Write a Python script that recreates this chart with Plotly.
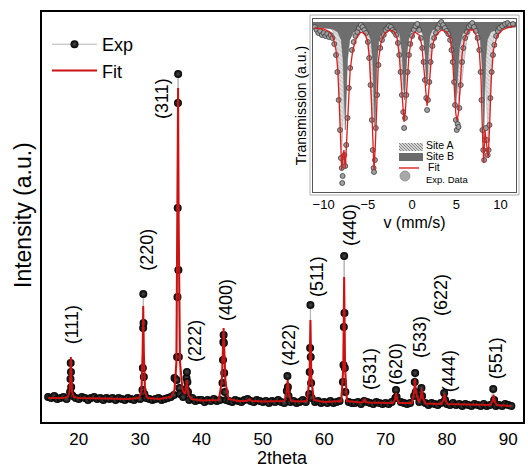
import numpy as np
import plotly.graph_objects as go

# ---------------- main XRD pattern ----------------
# baseline scan (2theta grid, step 0.5 deg) and intensities
base_start, base_step = 15.0, 0.5
base_I = [25, 24, 26, 23, 24, 25, 23, 24, 26, 24,
          23, 25, 24, 22, 24, 25, 23, 24, 22, 24,
          23, 24, 22, 24, 23, 22, 24, 23, 22, 24,
          23, 22, 24, 23, 22, 23, 24, 22, 23, 24,
          25, 27, 30, 28, 25, 23, 22, 24, 21, 22,
          22, 20, 22, 21, 23, 21, 22, 20, 22, 21,
          20, 22, 21, 20, 22, 23, 21, 20, 22, 21,
          20, 21, 19, 21, 20, 22, 20, 19, 21, 20,
          21, 19, 20, 22, 20, 21, 19, 20, 21, 19,
          20, 19, 21, 19, 20, 21, 20, 19, 20, 19,
          19, 20, 18, 21, 20, 19, 18, 20, 19, 18,
          19, 18, 20, 19, 18, 20, 19, 18, 19, 20,
          19, 20, 18, 19, 17, 19, 18, 17, 19, 18,
          18, 17, 19, 17, 18, 16, 18, 17, 16, 18,
          17, 16, 18, 16, 17, 18, 16, 17, 16, 18,
          17, 16]
base_2theta = base_start + base_step * np.arange(len(base_I))

# points on the diffraction peaks
peak_centers = [18.7, 30.5, 36.18, 37.6, 43.6, 54.05, 57.75, 63.25, 71.7, 74.8, 75.9, 79.6, 87.6]
peak_2theta = [18.58, 18.64, 18.68, 18.72, 18.76, 18.84,
               30.38, 30.44, 30.48, 30.51, 30.55, 30.60, 30.68,
               35.60, 35.92, 36.02, 36.08, 36.12, 36.16, 36.19, 36.23, 36.30, 36.40,
               37.45, 37.55, 37.62, 37.70, 37.80,
               43.42, 43.50, 43.56, 43.60, 43.64, 43.70, 43.80,
               53.90, 54.00, 54.08, 54.18,
               57.55, 57.63, 57.70, 57.75, 57.80, 57.86, 57.95,
               63.05, 63.14, 63.20, 63.25, 63.30, 63.36, 63.45,
               71.60, 71.70, 71.80,
               74.65, 74.75, 74.82, 74.92,
               75.85, 75.95,
               79.55, 79.70,
               87.55, 87.70]
peak_I = [30, 43, 59, 50, 35, 27,
          32, 54, 94, 128, 99, 45, 28,
          44, 42, 65, 125, 214, 319, 348, 152, 65, 34,
          33, 44, 50, 40, 30,
          39, 62, 80, 87, 79, 49, 30,
          31, 46, 35, 26,
          28, 50, 74, 117, 65, 39, 24,
          40, 57, 95, 166, 109, 54, 30,
          24, 32, 25,
          26, 40, 49, 30,
          34, 26,
          29, 22,
          33, 22]

# fitted profile
fit_2theta = [15.0, 17.5, 18.2, 18.5, 18.62, 18.70, 18.78, 18.9, 19.2, 20.0,
              24.0, 28.0, 29.8, 30.2, 30.40, 30.50, 30.60, 30.8, 31.2, 33.0,
              35.0, 35.6, 35.9, 36.08, 36.18, 36.28, 36.5, 36.9, 37.3, 37.5,
              37.6, 37.7, 37.9, 38.4, 40.0, 42.8, 43.3, 43.5, 43.6, 43.7,
              43.9, 44.4, 46.0, 47.4, 47.8, 48.2, 50.0, 53.5, 53.85, 54.05,
              54.25, 54.6, 56.0, 57.2, 57.6, 57.75, 57.9, 58.3, 60.0, 62.8,
              63.1, 63.25, 63.4, 63.7, 66.0, 66.4, 66.6, 66.8, 67.2, 71.2,
              71.55, 71.7, 71.85, 72.2, 74.3, 74.65, 74.8, 74.95, 75.4, 75.75,
              75.9, 76.05, 76.5, 79.1, 79.45, 79.6, 79.75, 80.1, 84.0, 87.1,
              87.45, 87.6, 87.75, 88.1, 90.4]
fit_I = [24, 24, 25, 30, 45, 65, 45, 30, 25, 24,
         23.5, 23, 24, 30, 70, 116, 70, 30, 24, 23,
         25, 32, 60, 200, 334, 200, 60, 32, 28, 35,
         42, 35, 27, 23, 21.5, 22, 40, 75, 94, 75,
         40, 23, 21, 21, 23, 21, 20.5, 21, 28, 42,
         28, 21, 20.5, 21, 45, 102, 45, 22, 20, 21,
         55, 145, 55, 21, 19.5, 20, 23, 20, 19.5, 19,
         23, 29, 23, 19, 19, 30, 43, 30, 20, 24,
         33, 24, 18.5, 18, 22, 28, 22, 18, 17.5, 17,
         21, 27, 21, 17, 16]

# peak labels (hkl) and their positions
hkl_labels = ["(111)", "(220)", "(311)", "(222)", "(400)", "(422)", "(511)",
              "(440)", "(531)", "(620)", "(533)", "(622)", "(444)", "(551)"]
hkl_2theta = [18.94, 31.09, 33.54, 38.92, 43.98, 54.26, 58.83,
              64.21, 67.47, 71.71, 75.63, 79.05, 80.36, 88.03]
hkl_I = [97, 172, 324, 81, 122, 77, 145, 197, 53, 58, 85, 127, 51, 64]

# ---------------- inset: Moessbauer spectrum ----------------
ms_fit_v = [-11.0, -10.0, -9.3, -8.9, -8.6, -8.4, -8.25, -8.1, -7.95, -7.8, -7.7, -7.55, -7.4, -7.2,
            -7.0, -6.7, -6.3, -5.8, -5.3, -5.0, -4.8, -4.6, -4.45, -4.3, -4.15, -4.0, -3.8, -3.5,
            -3.1, -2.5, -2.0, -1.7, -1.45, -1.25, -1.05, -0.9, -0.75, -0.55, -0.35, -0.05, 0.3,
            0.8, 1.1, 1.35, 1.55, 1.7, 1.85, 2.05, 2.3, 2.7, 3.3, 3.9, 4.3, 4.55, 4.75, 4.95,
            5.1, 5.25, 5.45, 5.65, 5.9, 6.4, 6.9, 7.3, 7.6, 7.8, 7.95, 8.1, 8.25, 8.4, 8.6,
            8.75, 8.95, 9.2, 9.6, 10.2, 11.0, 11.5]
ms_fit_T = [99.8, 99.7, 99.4, 98.8, 97.6, 95.6, 92.6, 88.6, 85.6, 87.1, 87.6, 85.8, 88.6, 92.6,
            95.6, 97.6, 98.8, 99.4, 99.2, 98.4, 96.6, 92.6, 88.1, 85.6, 88.1, 92.6, 96.6, 98.4,
            99.2, 99.6, 99.4, 98.8, 97.1, 94.6, 91.6, 90.4, 91.6, 94.6, 97.1, 98.8, 99.4,
            99.1, 98.1, 95.6, 93.1, 92.0, 93.1, 95.6, 98.1, 99.1, 99.6, 99.4, 98.8, 97.1, 94.1, 91.2,
            90.5, 91.4, 94.1, 97.1, 98.6, 99.6, 99.6, 99.0, 97.6, 94.6, 89.6, 86.3, 89.6, 88.6, 86.8,
            89.6, 94.6, 97.6, 99.0, 99.6, 99.9, 100.0]

siteA_v = [-11.2, -9.5, -9.0, -8.6, -8.35, -8.15, -7.95, -7.75, -7.55, -7.3, -6.9, -6.0,
           -5.6, -5.1, -4.85, -4.65, -4.45, -4.25, -4.05, -3.8, -3.3, -2.6, -2.1, -1.6,
           -1.35, -1.15, -1.0, -0.85, -0.65, -0.4, 0.0, 0.5, 1.0, 1.35, 1.6, 1.8, 2.0,
           2.25, 2.6, 3.2, 3.8, 4.3, 4.7, 5.0, 5.3, 5.6, 5.9, 6.2, 6.7, 7.2, 7.7, 8.0,
           8.25, 8.45, 8.6, 8.75, 8.95, 9.2, 9.6, 10.2, 11.75]
siteA_T = [100.0, 99.9, 99.6, 98.6, 96.1, 91.6, 87.6, 91.6, 96.1, 98.6, 99.6, 99.9,
           99.6, 98.6, 96.6, 93.1, 90.1, 93.1, 96.6, 98.6, 99.6, 99.9, 99.6, 98.6,
           96.8, 94.6, 93.6, 94.6, 96.8, 98.6, 99.6, 99.9, 99.6, 98.4, 96.4, 94.8, 96.4,
           98.4, 99.6, 99.9, 99.6, 98.6, 96.6, 94.1, 92.6, 94.1, 96.6, 98.6, 99.6, 99.9, 99.6, 98.6,
           96.1, 91.6, 88.6, 91.6, 96.1, 98.6, 99.6, 99.9, 100.0]

siteB_v = [-11.2, -10.0, -9.0, -8.4, -8.0, -7.8, -7.65, -7.55, -7.45, -7.3, -7.05, -6.6,
           -5.8, -5.0, -4.65, -4.45, -4.3, -4.2, -4.1, -3.95, -3.75, -3.4, -2.6, -1.8,
           -1.4, -1.15, -0.97, -0.85, -0.73, -0.55, -0.3, 0.1, 0.6, 1.0, 1.3, 1.48, 1.58,
           1.65, 1.72, 1.82, 2.0, 2.3, 2.9, 3.7, 4.2, 4.55, 4.78, 4.95, 5.12, 5.35, 5.7,
           6.2, 6.9, 7.4, 7.7, 7.88, 8.0, 8.1, 8.2, 8.32, 8.5, 8.9, 9.8, 11.0, 11.75]
siteB_T = [99.9, 99.8, 99.7, 99.4, 98.6, 96.6, 92.6, 89.6, 92.6, 96.6, 98.6, 99.4,
           99.7, 99.4, 98.6, 96.6, 92.6, 89.6, 92.6, 96.6, 98.6, 99.4, 99.7, 99.6,
           99.2, 97.6, 94.6, 92.6, 94.6, 97.6, 99.2, 99.6, 99.7, 99.6, 99.0, 97.0, 94.8,
           94.0, 94.8, 97.0, 99.0, 99.6, 99.7, 99.6, 99.2, 97.8, 94.6, 92.1, 94.6, 97.8, 99.2,
           99.6, 99.7, 99.4, 98.6, 96.6, 92.6, 88.6, 92.6, 96.6, 98.6, 99.4, 99.7, 99.8, 99.9]
site_top_T = 100.4

ms_exp_v = [-11.0, -10.8, -10.6, -10.4, -10.2, -10.0, -9.8, -9.6, -9.4, -9.2, -9.0, -8.8, -8.6,
            -8.45, -8.3, -8.15, -8.05, -7.95, -7.9, -7.85, -7.75, -7.65, -7.55, -7.45, -7.3,
            -7.15, -7.0, -6.8, -6.6, -6.4, -6.2, -6.0, -5.8, -5.6, -5.4, -5.2, -5.0, -4.85,
            -4.7, -4.55, -4.45, -4.35, -4.3, -4.2, -4.1, -3.95, -3.8, -3.6, -3.4, -3.2, -3.0,
            -2.8, -2.6, -2.4, -2.2, -2.0, -1.8, -1.6, -1.45, -1.3, -1.15, -1.0, -0.9, -0.8,
            -0.65, -0.5, -0.35, -0.2, 0.0, 0.2, 0.4, 0.6, 0.8, 1.0, 1.15, 1.3, 1.45, 1.6,
            1.7, 1.8, 1.95, 2.1, 2.3, 2.5, 2.7, 2.9, 3.1, 3.3, 3.5, 3.7, 3.9, 4.1, 4.3,
            4.45, 4.6, 4.75, 4.85, 4.95, 5.05, 5.15, 5.25, 5.35, 5.5, 5.65, 5.8, 6.0, 6.2,
            6.4, 6.6, 6.8, 7.0, 7.2, 7.4, 7.6, 7.75, 7.85, 7.95, 8.05, 8.15, 8.25, 8.35,
            8.45, 8.55, 8.65, 8.75, 8.85, 9.0, 9.15, 9.3, 9.5, 9.7, 9.9, 10.2, 10.5, 10.8,
            11.1, 11.4]
ms_exp_T = [99.9, 99.6, 99.3, 99.5, 99.1, 99.3, 99.0, 99.2, 98.9, 99.1, 98.8, 98.2, 97.1,
            95.4, 92.6, 89.6, 86.8, 85.8, 84.3, 85.0, 86.4, 87.1, 86.0, 88.1, 90.8,
            93.8, 95.8, 97.6, 98.4, 99.0, 99.4, 99.8, 100.1, 99.9, 99.6, 99.3, 98.4, 96.8,
            94.1, 90.6, 87.6, 85.8, 85.4, 86.6, 89.8, 93.1, 96.1, 97.8, 98.6, 99.1, 99.6,
            99.8, 100.0, 99.9, 99.6, 99.4, 99.1, 98.3, 97.1, 95.4, 93.1, 91.4, 89.8, 90.8,
            93.1, 95.4, 97.1, 98.2, 99.0, 99.6, 100.0, 100.2, 99.6, 98.8, 97.8, 96.4, 94.6, 92.8,
            91.6, 92.6, 94.4, 96.4, 98.0, 98.8, 99.3, 99.8, 100.2, 100.4, 100.1, 99.8, 99.5, 99.2, 98.6,
            97.6, 96.4, 94.4, 92.1, 90.6, 89.6, 90.2, 89.9, 91.8, 94.1, 96.4, 97.8, 98.8, 99.4,
            99.9, 100.1, 100.3, 99.9, 99.5, 98.8, 97.6, 95.4, 92.6, 89.6, 87.6, 86.6, 88.6, 89.8,
            88.6, 87.1, 87.6, 90.1, 92.8, 95.4, 97.1, 98.1, 99.0, 99.5, 99.8, 100.0, 100.2, 100.3,
            100.1, 100.2]

# ---------------- assemble experimental XRD series ----------------
keep = [all(abs(x - c) > 0.3 for c in peak_centers) for x in base_2theta]
exp_x = np.concatenate([base_2theta[keep], np.array(peak_2theta)])
exp_y = np.concatenate([np.array(base_I)[keep], np.array(peak_I)])
order = np.argsort(exp_x, kind="stable")
exp_x, exp_y = exp_x[order], exp_y[order]

FONT = "Liberation Sans, Arial, sans-serif"
L, R, T, B = 42, 5, 12, 48
W, H = 528, 470
PW, PH = W - L - R, H - T - B


def pxx(x):
    return (x - L) / PW


def pxy(y):
    return (H - B - y) / PH


fig = go.Figure()

fig.add_trace(go.Scatter(
    x=exp_x, y=exp_y, mode="lines+markers", name="Exp",
    line=dict(color="#b5b5b5", width=1),
    marker=dict(size=8, color="black", line=dict(width=0),
                gradient=dict(type="radial", color="#4a4a4a")),
))
fig.add_trace(go.Scatter(
    x=fit_2theta, y=fit_I, mode="lines", name="Fit",
    line=dict(color="#cc1111", width=2),
))

# inset traces
fig.add_trace(go.Scatter(
    x=[siteA_v[0]] + siteA_v + [siteA_v[-1]], y=[site_top_T] + siteA_T + [site_top_T],
    mode="lines", fill="toself", xaxis="x2", yaxis="y2", showlegend=False,
    line=dict(color="#a0a0a0", width=0.5),
    fillcolor="#dedede",
    fillpattern=dict(shape="\\", fgcolor="#9a9a9a", bgcolor="#e2e2e2", size=3, solidity=0.3),
))
fig.add_trace(go.Scatter(
    x=[siteB_v[0]] + siteB_v + [siteB_v[-1]], y=[site_top_T] + siteB_T + [site_top_T],
    mode="lines", fill="toself", xaxis="x2", yaxis="y2", showlegend=False,
    line=dict(color="#5a5a5a", width=0.5),
    fillcolor="#6e6e6e",
))
fig.add_trace(go.Scatter(
    x=ms_exp_v, y=ms_exp_T, mode="markers", xaxis="x2", yaxis="y2", showlegend=False,
    marker=dict(size=5, color="#a0a0a0", line=dict(color="#3c3c3c", width=0.8)),
))
fig.add_trace(go.Scatter(
    x=ms_fit_v, y=ms_fit_T, mode="lines", xaxis="x2", yaxis="y2", showlegend=False,
    line=dict(color="#dd1c1c", width=1.3),
))

annotations = []
for lab, x, y in zip(hkl_labels, hkl_2theta, hkl_I):
    annotations.append(dict(x=x, y=y, xref="x", yref="y", text=lab, textangle=-90,
                            showarrow=False, font=dict(family=FONT, size=18, color="black"),
                            xanchor="center", yanchor="middle"))

# main axis titles
annotations.append(dict(x=pxx(282), y=pxy(470), xref="paper", yref="paper", text="2theta",
                        showarrow=False, xanchor="center", yanchor="bottom",
                        font=dict(family=FONT, size=18, color="black")))
annotations.append(dict(x=pxx(23), y=pxy(215), xref="paper", yref="paper", text="Intensity (a.u.)",
                        textangle=-90, showarrow=False, xanchor="center", yanchor="middle",
                        font=dict(family=FONT, size=23, color="black")))

# inset legend (drawn as decoration)
shapes = []
ax0, ax1 = 399, 423
shapes.append(dict(type="rect", xref="paper", yref="paper", x0=pxx(ax0), x1=pxx(ax1),
                   y0=pxy(151), y1=pxy(143), fillcolor="#d4d4d4", line=dict(width=0)))
hatch = ""
for k in range(-6, 24, 3):
    xa, ya = ax0 + k, 143
    xb, yb = ax0 + k + 8, 151
    if xa < ax0:
        ya += ax0 - xa
        xa = ax0
    if xb > ax1:
        yb -= xb - ax1
        xb = ax1
    hatch += f"M{pxx(xa)},{pxy(ya)} L{pxx(xb)},{pxy(yb)} "
shapes.append(dict(type="path", xref="paper", yref="paper", path=hatch,
                   line=dict(color="#707070", width=0.8)))
shapes.append(dict(type="rect", xref="paper", yref="paper", x0=pxx(399), x1=pxx(423),
                   y0=pxy(161), y1=pxy(153), fillcolor="#6b6b6b", line=dict(width=0)))
shapes.append(dict(type="line", xref="paper", yref="paper", x0=pxx(399), x1=pxx(419),
                   y0=pxy(168), y1=pxy(168), line=dict(color="#e03030", width=1.5)))
shapes.append(dict(type="circle", xref="paper", yref="paper", x0=pxx(400), x1=pxx(410),
                   y0=pxy(181), y1=pxy(171), fillcolor="#a8a8a8", line=dict(color="#8c8c8c", width=0.8)))
# outer frame of the inset graph
shapes.append(dict(type="rect", xref="paper", yref="paper", x0=pxx(310), x1=pxx(519),
                   y0=pxy(195), y1=pxy(15), line=dict(color="#b0b0b0", width=1)))

for txt, x, y, s in [("Site A", 424, 145.5, 10.5), ("Site B", 424, 156, 10.5),
                     ("Fit", 426, 166.5, 10.5), ("Exp. Data", 424, 179, 9.5)]:
    annotations.append(dict(x=pxx(x), y=pxy(y), xref="paper", yref="paper", text=txt,
                            showarrow=False, xanchor="left", yanchor="middle",
                            font=dict(family=FONT, size=s, color="black")))

fig.update_layout(
    width=W, height=H,
    margin=dict(l=L, r=R, t=T, b=B, autoexpand=False),
    paper_bgcolor="white", plot_bgcolor="white",
    font=dict(family=FONT, color="black"),
    showlegend=True,
    legend=dict(x=pxx(47), y=pxy(26), xanchor="left", yanchor="top",
                font=dict(family=FONT, size=18), bgcolor="rgba(0,0,0,0)",
                itemwidth=45, tracegroupgap=0),
    xaxis=dict(range=[14.0, 92.4], showgrid=False, zeroline=False, automargin=False,
               showline=True, mirror=True, linecolor="black", linewidth=2,
               ticks="", tickvals=[20, 30, 40, 50, 60, 70, 80, 90],
               tickfont=dict(family=FONT, size=17), ticklabelstandoff=1),
    yaxis=dict(range=[0, 410], showgrid=False, zeroline=False, automargin=False,
               showline=True, mirror=True, linecolor="black", linewidth=2,
               ticks="", showticklabels=False),
    xaxis2=dict(domain=[pxx(313), pxx(516)], anchor="y2", range=[-11.2, 11.75],
                showgrid=False, zeroline=False, showline=True, mirror=True, automargin=False,
                linecolor="#555555", linewidth=1, ticks="",
                tickvals=[-10, -5, 0, 5, 10], tickfont=dict(family=FONT, size=13),
                title=dict(text="v (mm/s)", font=dict(family=FONT, size=16), standoff=6)),
    yaxis2=dict(domain=[pxy(192), pxy(19)], anchor="x2", range=[83.4, 100.7],
                showgrid=False, zeroline=False, showline=True, mirror=True, automargin=False,
                linecolor="#555555", linewidth=1, ticks="", showticklabels=False,
                title=dict(text="Transmission (a.u.)", font=dict(family=FONT, size=14), standoff=2)),
    annotations=annotations,
    shapes=shapes,
)

fig.write_html("out.html", config={"displayModeBar": False},
               post_script="document.body.style.margin='0px';")
